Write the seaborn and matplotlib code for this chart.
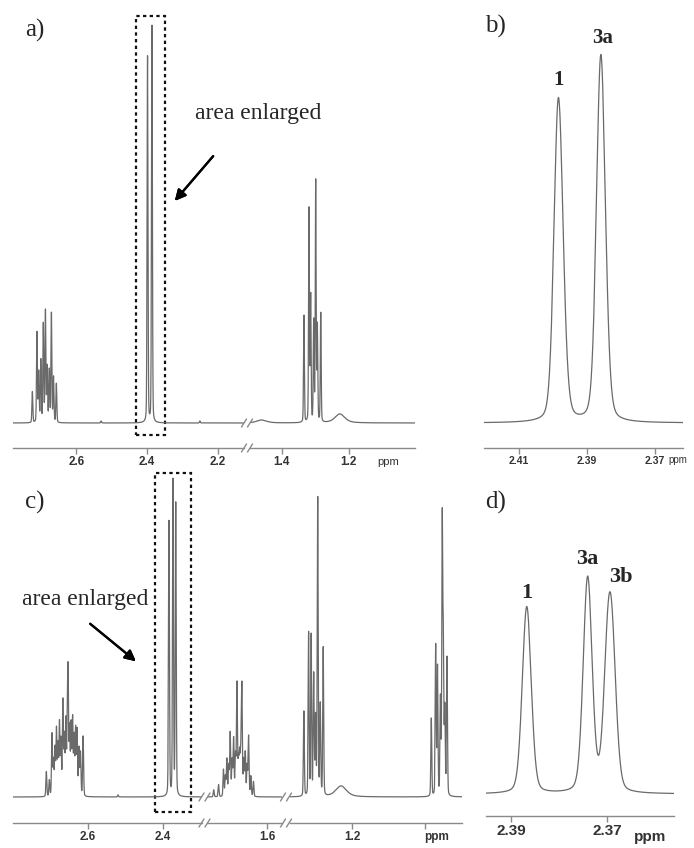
import numpy as np
import matplotlib
matplotlib.use("Agg")
import matplotlib.pyplot as plt
from matplotlib.lines import Line2D
from matplotlib.patches import Rectangle
import seaborn as sns

W, H = 694, 848

# ---------------------------------------------------------------------------
# Peak tables (ppm, height in px above the baseline)
# ---------------------------------------------------------------------------
# a) full spectrum, sample 1
a_ppm = [2.725, 2.712, 2.707, 2.701, 2.694, 2.688, 2.683, 2.677, 2.671, 2.665, 2.657,
         2.530, 2.3985, 2.3860, 2.250,
         1.334, 1.319, 1.314, 1.305, 1.299, 1.294, 1.284]
a_int = [31, 90, 50, 62, 98, 111, 55, 52, 109, 45, 39,
         2, 366, 397, 2,
         107, 213, 125, 100, 240, 95, 109]
a_broad_ppm = [1.227, 1.46]
a_broad_int = [9, 3]

# b) enlarged 2.36-2.42 ppm region of a)
b_ppm = [2.3985, 2.3972, 2.3860, 2.3848]
b_int = [300, 40, 348, 30]
b_labels = ["1", "3a"]

# c) full spectrum, sample 2
c_ppm = [2.711, 2.703, 2.696, 2.692, 2.688, 2.684, 2.680, 2.676, 2.672, 2.667, 2.663,
         2.659, 2.655, 2.653, 2.649, 2.645, 2.641, 2.637, 2.633, 2.629, 2.624, 2.620, 2.613,
         2.520, 2.3840, 2.3733, 2.3660,
         1.742, 1.729, 1.716, 1.711, 1.707, 1.702, 1.698, 1.693, 1.689, 1.684, 1.680, 1.676,
         1.673, 1.670, 1.667, 1.662, 1.658, 1.653, 1.649, 1.643, 1.636,
         1.332, 1.319, 1.312, 1.305, 1.300, 1.294, 1.287, 1.279,
         0.983, 0.971, 0.966, 0.958, 0.953, 0.950, 0.946, 0.940]
c_int = [25, 16, 62, 35, 47, 66, 50, 72, 55, 94, 58,
         74, 62, 108, 66, 70, 76, 58, 66, 65, 47, 43, 60,
         2, 275, 315, 292,
         7, 12, 27, 20, 37, 30, 63, 35, 57, 40, 112, 35,
         40, 38, 110, 35, 43, 30, 60, 20, 15,
         85, 163, 160, 120, 77, 297, 90, 148,
         78, 150, 128, 95, 272, 140, 85, 138]
c_broad_ppm = [1.230]
c_broad_int = [11]

# d) enlarged 2.356-2.395 ppm region of c)
d_ppm = [2.3867, 2.3740, 2.3698, 2.3689]
d_int = [187, 215, 113, 113]
d_labels = ["1", "3a", "3b"]

LINE = "#6a6a6a"
AXC = "#8a8a8a"
TXT = "#333333"


def spectrum(x, ppm, inten, fwhm=0.003, eta=0.22):
    y = np.zeros_like(x)
    for p, h in zip(ppm, inten):
        u = (x - p) / (fwhm / 2)
        y += h * (eta / (1 + u ** 2) + (1 - eta) * np.exp(-np.log(2) * u ** 2))
    return y


def px_axes(fig, left, top, right, bottom):
    return fig.add_axes([left / W, 1 - bottom / H, (right - left) / W, (bottom - top) / H])


def fx(px):
    return px / W


def fy(py):
    return 1 - py / H


sns.set_theme(style="white")
plt.rcParams["font.family"] = ["Liberation Sans", "DejaVu Sans"]

fig = plt.figure(figsize=(W / 100, H / 100), dpi=100)


def draw_segment(box, xlim, ylim, ticks, ticklabels, ppm, inten, broad_ppm=(), broad_int=(),
                 n=6000, tsize=8.5, fwhm=0.003):
    ax = px_axes(fig, *box)
    x = np.linspace(xlim[1], xlim[0], n)
    y = spectrum(x, ppm, inten, fwhm=fwhm)
    if len(broad_ppm):
        y = y + spectrum(x, broad_ppm, broad_int, fwhm=0.035, eta=0.6)
    sns.lineplot(x=x, y=y, ax=ax, color=LINE, lw=0.9, estimator=None, sort=False, legend=False)
    ax.set_xlim(*xlim)
    ax.set_ylim(*ylim)
    ax.set_facecolor("none")
    for s in ["top", "left", "right"]:
        ax.spines[s].set_visible(False)
    ax.spines["bottom"].set_color(AXC)
    ax.spines["bottom"].set_linewidth(1.0)
    ax.set_yticks([])
    ax.set_xticks(ticks)
    ax.set_xticklabels(ticklabels, fontsize=tsize, fontweight="bold", color=TXT)
    ax.tick_params(axis="x", direction="out", length=4, width=1, color=AXC, pad=2, bottom=True)
    ax.set_xlabel("")
    ax.set_ylabel("")
    return ax


def break_mark(xc, yc):
    for dx in (-3, 3):
        fig.add_artist(Line2D([fx(xc + dx - 2.5), fx(xc + dx + 2.5)], [fy(yc + 4), fy(yc - 4)],
                              color=AXC, lw=1.0))


# ---------------- a) ----------------
ylim_ab = (-25, 413)
a1 = draw_segment((13, 10, 244, 448), (2.78, 2.125), ylim_ab, [2.6, 2.4, 2.2], ["2.6", "2.4", "2.2"],
                  a_ppm, a_int)
a2 = draw_segment((250, 10, 415, 448), (1.495, 1.003), ylim_ab, [1.4, 1.2], ["1.4", "1.2"],
                  a_ppm, a_int, a_broad_ppm, a_broad_int, n=4000)
fig.text(fx(388), fy(462), "ppm", fontsize=8, color=TXT, ha="center", va="center")
break_mark(247, 423)
break_mark(247, 448)
a1.add_patch(Rectangle((2.430, -12), -0.080, 419, fill=False, ec="#111111", lw=1.6,
                       ls=(0, (1.5, 1.5)), clip_on=False))

# ---------------- b) ----------------
b = draw_segment((484, 10, 683, 448), (2.4203, 2.3618), ylim_ab, [2.41, 2.39, 2.37],
                 ["2.41", "2.39", "2.37"], b_ppm, b_int, n=3000, tsize=7.5)
fig.text(fx(678), fy(460), "ppm", fontsize=7, color=TXT, ha="center", va="center")
b.text(b_ppm[0], 343, b_labels[0], family="Liberation Serif", fontsize=15, fontweight="bold",
       ha="center", va="center")
b.text(b_ppm[2] - 0.0006, 385, b_labels[1], family="Liberation Serif", fontsize=15,
       fontweight="bold", ha="center", va="center")

# ---------------- c) ----------------
ylim_c = (-26, 332)
c1 = draw_segment((13, 465, 202, 823), (2.80, 2.296), ylim_c, [2.6, 2.4], ["2.6", "2.4"],
                  c_ppm, c_int)
c2 = draw_segment((207, 465, 282, 823), (1.76, 1.56), ylim_c, [1.6], ["1.6"], c_ppm, c_int, n=3000)
c3 = draw_segment((290, 465, 462, 823), (1.370, 0.899), ylim_c, [1.2, 1.0], ["1.2", ""],
                  c_ppm, c_int, c_broad_ppm, c_broad_int, n=5000)
fig.text(fx(437), fy(837), "ppm", fontsize=8.5, fontweight="bold", color=TXT, ha="center", va="center")
for xb in (204.5, 286):
    break_mark(xb, 797)
    break_mark(xb, 823)
c1.add_patch(Rectangle((2.421, -15), -0.096, 339, fill=False, ec="#111111", lw=1.6,
                       ls=(0, (1.5, 1.5)), clip_on=False))

# ---------------- d) ----------------
d = draw_segment((486, 465, 674, 816), (2.3952, 2.356), (-22, 329), [2.39, 2.37], ["2.39", "2.37"],
                 d_ppm, d_int, n=3000, tsize=11, fwhm=0.0022)
fig.text(fx(650), fy(837), "ppm", fontsize=11, fontweight="bold", color=TXT, ha="center", va="center")
for p, yy, lab in zip([d_ppm[0], d_ppm[1], d_ppm[2] - 0.0027], [201, 235, 217], d_labels):
    d.text(p, yy, lab, family="Liberation Serif", fontsize=16, fontweight="bold",
           ha="center", va="center")

# ---------------- panel letters, notes, arrows ----------------
for (px, py, lab) in [(35, 30, "a)"), (495, 26, "b)"), (35, 502, "c)"), (496, 502, "d)")]:
    fig.text(fx(px), fy(py), lab, family="Liberation Serif", fontsize=18, ha="center", va="center")

fig.text(fx(258), fy(114), "area enlarged", family="Liberation Serif", fontsize=17,
         ha="center", va="center")
fig.text(fx(85), fy(600), "area enlarged", family="Liberation Serif", fontsize=17,
         ha="center", va="center")

fig.add_artist(plt.annotate("", xy=(fx(173), fy(203)), xytext=(fx(215), fy(154)),
                            xycoords="figure fraction", textcoords="figure fraction",
                            arrowprops=dict(arrowstyle="-|>", color="black", lw=1.6,
                                            mutation_scale=16)))
fig.add_artist(plt.annotate("", xy=(fx(138), fy(663)), xytext=(fx(88), fy(622)),
                            xycoords="figure fraction", textcoords="figure fraction",
                            arrowprops=dict(arrowstyle="-|>", color="black", lw=1.6,
                                            mutation_scale=16)))

fig.savefig("out.png", dpi=100, facecolor="white")
